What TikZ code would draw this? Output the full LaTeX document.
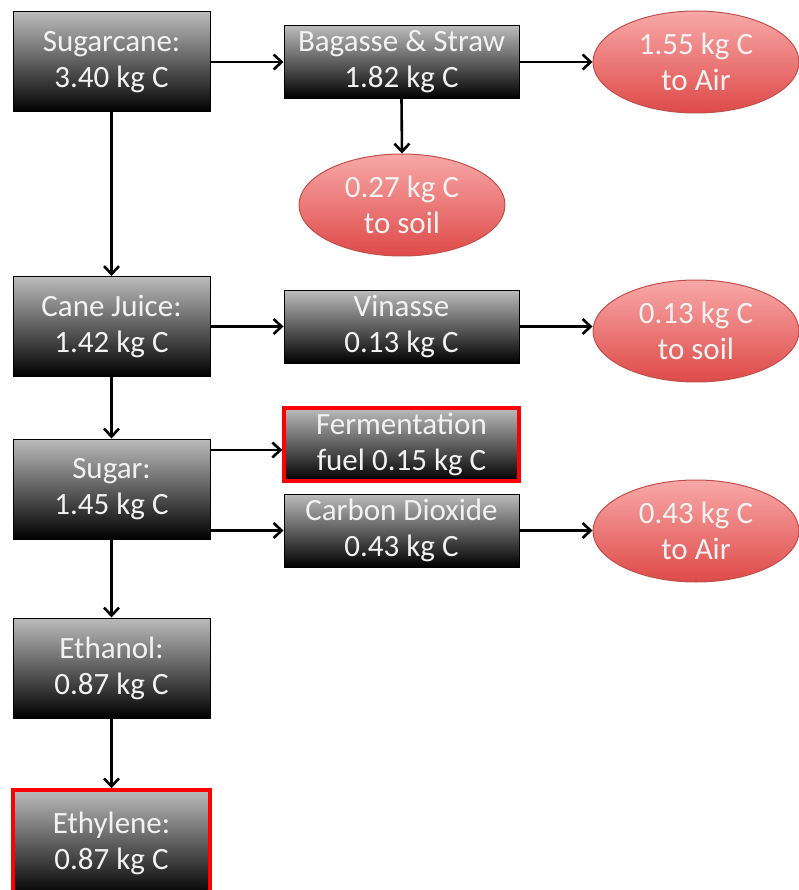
\documentclass[tikz,border=0pt]{standalone}
\usepackage{fontspec}
\setmainfont{Carlito}
\usetikzlibrary{arrows.meta}
\usetikzlibrary{shapes.geometric}

\definecolor{boxtop}{RGB}{188,188,188}
\definecolor{boxtext}{RGB}{242,242,242}
\definecolor{sinktop}{RGB}{248,168,168}
\definecolor{sinkbot}{RGB}{222,74,72}
\definecolor{sinkline}{RGB}{192,80,77}

\begin{document}
\begin{tikzpicture}[x=1pt, y=-1pt]
\tikzset{flow/.style = {rectangle, draw=black, line width=1pt, top color=boxtop, bottom color=black,
                        text=boxtext, align=center, inner sep=0pt,
                        font=\fontsize{31}{36}\selectfont}}
\tikzset{mainbox/.style = {flow, minimum width=197, minimum height=100}}
\tikzset{sidebox/.style = {flow, minimum width=235, minimum height=73}}
\tikzset{hilite/.style = {draw=red, line width=3.5pt}}
\tikzset{sink/.style = {ellipse, draw=sinkline, line width=1pt, top color=sinktop, bottom color=sinkbot,
                        text=boxtext, align=center, inner sep=0pt, minimum width=206, minimum height=102,
                        font=\fontsize{31}{36}\selectfont}}
\tikzset{edge/.style = {-{Straight Barb[length=8pt, width=15pt]}, line width=2.6pt}}

\useasboundingbox (0,0) rectangle (799,890);

% main chain
\node[mainbox] (cane)    at (111.5, 62)  {Sugarcane:\\3.40 kg C};
\node[mainbox] (juice)   at (111.5, 326.5) {Cane Juice:\\1.42 kg C};
\node[mainbox] (sugar)   at (111.5, 489) {Sugar:\\1.45 kg C};
\node[mainbox] (ethanol) at (111.5, 668) {Ethanol:\\0.87 kg C};
\node[mainbox, hilite, minimum height=106] (ethylene) at (111.5, 843) {Ethylene:\\0.87 kg C};

% side streams
\node[sidebox] (bagasse) at (401.5, 62)  {Bagasse \& Straw\\1.82 kg C};
\node[sidebox] (vinasse) at (401.5, 326.5) {Vinasse\\0.13 kg C};
\node[sidebox, hilite] (ferm) at (401.5, 444.5) {Fermentation\\fuel 0.15 kg C};
\node[sidebox] (co2)     at (401.5, 530.5) {Carbon Dioxide\\0.43 kg C};

% sinks
\node[sink] (airA)  at (696, 62)  {1.55 kg C\\to Air};
\node[sink] (soilA) at (402, 205) {0.27 kg C\\to soil};
\node[sink] (soilB) at (696, 331) {0.13 kg C\\to soil};
\node[sink] (airB)  at (696, 531) {0.43 kg C\\to Air};

\draw[edge] (cane.south) -- (juice.north);
\draw[edge] (juice.south) -- (sugar.north);
\draw[edge] (sugar.south) -- (ethanol.north);
\draw[edge] (ethanol.south) -- (ethylene.north);

\draw[edge] (cane.east) -- (bagasse.west);
\draw[edge] (bagasse.east) -- (airA.west);
\draw[edge] (bagasse.south) -- (soilA.north);
\draw[edge] (juice.east) -- (vinasse.west);
\draw[edge] (vinasse.east) -- (vinasse.east -| soilB.west);
\draw[edge] ([yshift=-5.5pt]sugar.east |- ferm.west) -- ([yshift=-5.5pt]ferm.west);
\draw[edge] (sugar.east |- co2.west) -- (co2.west);
\draw[edge] (co2.east) -- (co2.east -| airB.west);

\end{tikzpicture}
\end{document}
